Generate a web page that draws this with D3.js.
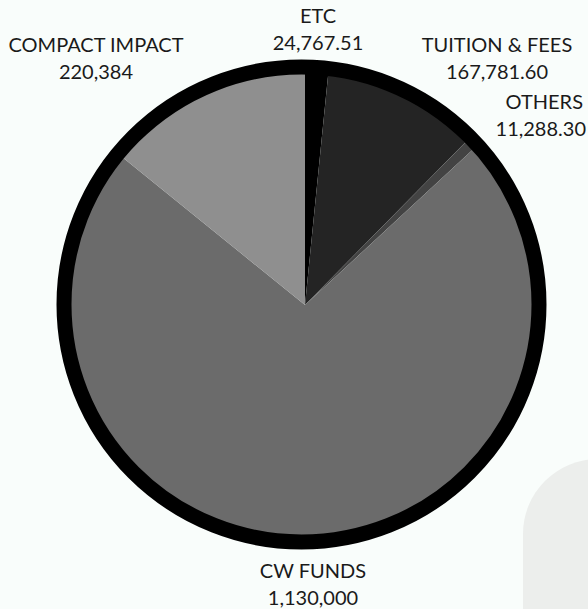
<!DOCTYPE html>
<html><head><meta charset="utf-8">
<script src="https://cdn.jsdelivr.net/npm/d3@7"></script>
<style>
html,body{margin:0;padding:0;background:#f9fdfb;}
svg{display:block;}
text{font-family:"Lato","Open Sans",sans-serif;fill:#1a1a1a;}
</style></head>
<body>
<svg id="chart" width="588" height="609"></svg>
<script>
const categories = ["ETC", "TUITION & FEES", "OTHERS", "CW FUNDS", "COMPACT IMPACT"];
const values = [24767.51, 167781.60, 11288.30, 1130000, 220384];
const valueLabels = ["24,767.51", "167,781.60", "11,288.30", "1,130,000", "220,384"];
const colors = ["#000000", "#242424", "#434343", "#6b6b6b", "#8f8f8f"];

// label layout (anchor x, baseline y of first line, anchor)
const labelLayout = {
  "ETC": [318, 23, "middle"],
  "TUITION & FEES": [497, 52, "middle"],
  "OTHERS": [586, 109, "end"],
  "CW FUNDS": [313, 578, "middle"],
  "COMPACT IMPACT": [96, 52, "middle"]
};

const svg = d3.select("#chart");
svg.append("rect").attr("x", 523).attr("y", 459).attr("width", 160).attr("height", 260)
  .attr("rx", 75).attr("fill", "#eceeec");

const data = categories.map((c, i) => ({cat: c, value: values[i], label: valueLabels[i], color: colors[i]}));
const pie = d3.pie().sort(null).value(d => d.value);
const arc = d3.arc().innerRadius(0).outerRadius(238);

const g = svg.append("g").attr("transform", "translate(305,305)");
g.selectAll("path").data(pie(data)).join("path")
  .attr("d", arc).attr("fill", d => d.data.color);

svg.append("circle").attr("cx", 301.5).attr("cy", 304.5).attr("r", 237.5)
  .attr("fill", "none").attr("stroke", "#000").attr("stroke-width", 15);

const lab = svg.append("g");
data.forEach(d => {
  const [x, y, anchor] = labelLayout[d.cat];
  const t = lab.append("text").attr("text-anchor", anchor).attr("font-size", 20);
  if (anchor === "end") {
    t.append("tspan").attr("x", x - 3).attr("y", y).text(d.cat);
  } else {
    t.append("tspan").attr("x", x).attr("y", y).text(d.cat);
  }
  t.append("tspan").attr("x", x).attr("y", y + 26.5).text(d.label);
});
</script>
</body></html>
